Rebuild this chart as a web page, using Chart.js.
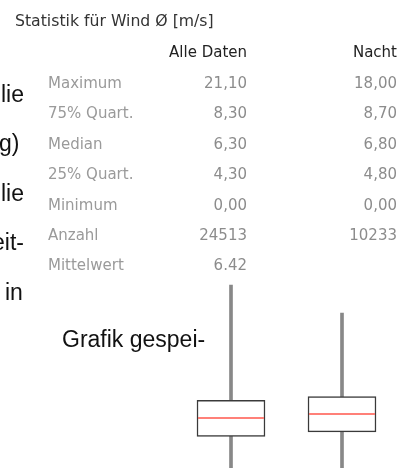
<!DOCTYPE html>
<html>
<head>
<meta charset="utf-8">
<script src="https://cdn.jsdelivr.net/npm/chart.js@4/dist/chart.umd.min.js"></script>
<style>
  html, body { margin:0; padding:0; background:#fff; overflow:hidden; }
  #wrap { position:relative; width:410px; height:468px; overflow:hidden; }
  #chart { position:absolute; left:0; top:0; }
  .t { position:absolute; white-space:nowrap; line-height:1; }
  .doc { font-family:"Liberation Sans", Arial, sans-serif; font-size:23px; color:#111; }
  .tab { font-family:"DejaVu Sans", sans-serif; font-size:15px; }
  .title { color:#333; font-size:15.7px; }
  .head { color:#222; }
  .lab { color:#9a9a9a; }
  .num { color:#8c8c8c; }
</style>
</head>
<body>
<div id="wrap">
  <div id="cv" style="position:absolute;left:0;top:0;width:410px;height:475px;">
    <canvas id="chart"></canvas>
  </div>
</div>
<script>
// ---- data ----
const categories = ['Alle Daten', 'Nacht'];
const maximum   = [21.10, 18.00];
const quart75   = [8.30, 8.70];
const median    = [6.30, 6.80];
const quart25   = [4.30, 4.80];
const minimum   = [0.00, 0.00];
const anzahl    = [24513, 10233];
const mittelwert = [6.42, null];
const rowLabels = ['Maximum', '75% Quart.', 'Median', '25% Quart.', 'Minimum', 'Anzahl', 'Mittelwert'];
const titleText = 'Statistik für Wind Ø [m/s]';
const docLines = ['lie', 'g)', 'lie', 'eit-', 'in', 'Grafik gespei-'];

// ---- text overlay ----
const wrap = document.getElementById('wrap');
function addText(txt, cls, css) {
  const d = document.createElement('div');
  d.className = 't ' + cls;
  d.textContent = txt;
  Object.assign(d.style, css);
  wrap.appendChild(d);
  return d;
}
// background document text (cropped on the left)
const docX = [1, -1, 1, -8, 5, 62];
const docBase = [102, 151, 201, 250, 300, 347];
docLines.forEach((s, i) => addText(s, 'doc', { left: docX[i] + 'px', top: (docBase[i] - 19.5) + 'px' }));

// table
const fmt = v => v.toFixed(2).replace('.', ',');
addText(titleText, 'tab title', { left: '15px', top: (20 - 7.5) + 'px' });
const colRight = [163, 13];
categories.forEach((c, j) => addText(c, 'tab head', { right: colRight[j] + 'px', top: (52 - 7) + 'px' }));
const rowY = [83, 113.4, 143.8, 174.2, 204.6, 235, 265.4];
const rowVals = [
  maximum.map(fmt), quart75.map(fmt), median.map(fmt), quart25.map(fmt), minimum.map(fmt),
  anzahl.map(v => String(v)), mittelwert.map(v => v == null ? '' : v.toFixed(2))
];
rowLabels.forEach((lab, i) => {
  addText(lab, 'tab lab', { left: '48px', top: (rowY[i] - 7) + 'px' });
  rowVals[i].forEach((v, j) => { if (v) addText(v, 'tab num', { right: colRight[j] + 'px', top: (rowY[i] - 7) + 'px' }); });
});

// ---- box plot ----
const medianPlugin = {
  id: 'medianLines',
  afterDatasetsDraw(chart) {
    const { ctx, scales: { x, y } } = chart;
    const half = 33;
    ctx.save();
    ctx.strokeStyle = '#ff8078';
    ctx.lineWidth = 2;
    median.forEach((m, i) => {
      const cx = x.getPixelForValue(i);
      const py = Math.round(y.getPixelForValue(m));
      ctx.beginPath();
      ctx.moveTo(cx - half, py);
      ctx.lineTo(cx + half, py);
      ctx.stroke();
    });
    ctx.restore();
  }
};

new Chart(document.getElementById('chart'), {
  type: 'bar',
  data: {
    labels: categories,
    datasets: [
      { data: categories.map((_, i) => [quart25[i], quart75[i]]), backgroundColor: '#ffffff', borderColor: '#3a3a3a', borderWidth: 1.5, borderSkipped: false, barThickness: 68, grouped: false },
      { data: categories.map((_, i) => [quart75[i], maximum[i]]), backgroundColor: '#888888', borderWidth: 0, barThickness: 3, grouped: false },
      { data: categories.map((_, i) => [minimum[i], quart25[i]]), backgroundColor: '#888888', borderWidth: 0, barThickness: 3, grouped: false }
    ]
  },
  options: {
    responsive: true,
    maintainAspectRatio: false,
    animation: false,
    layout: { padding: { left: 175.5, right: 12.5, top: 250, bottom: 0 } },
    plugins: { legend: { display: false }, tooltip: { enabled: false }, title: { display: false } },
    scales: {
      x: { display: false, offset: true },
      y: { display: false, min: 0, max: 25 }
    }
  },
  plugins: [medianPlugin]
});
</script>
</body>
</html>
